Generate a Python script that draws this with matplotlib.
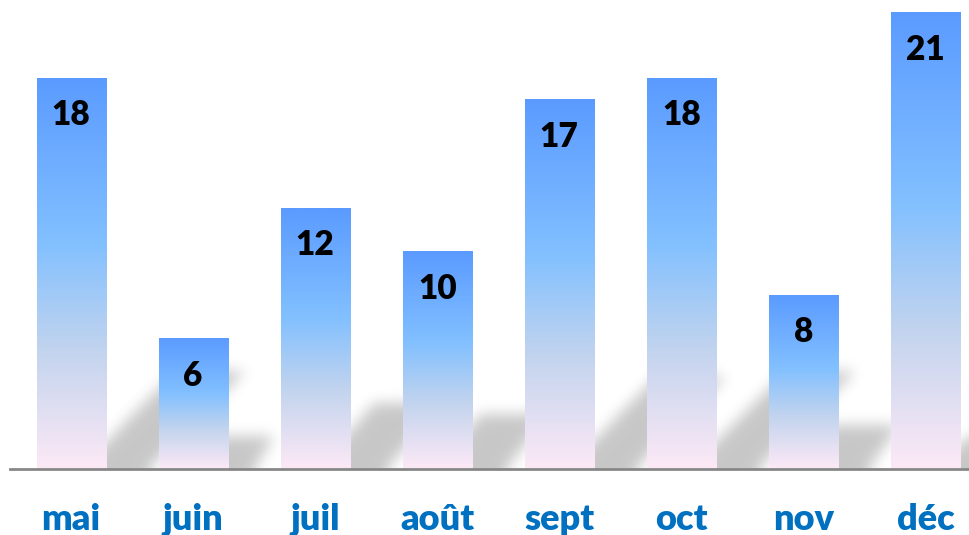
import numpy as np
import matplotlib
matplotlib.use("Agg")
import matplotlib.pyplot as plt
from matplotlib.path import Path
from matplotlib.colors import LinearSegmentedColormap

# ---- data ----
months = ["mai", "juin", "juil", "août", "sept", "oct", "nov", "déc"]
values = [18, 6, 12, 10, 17, 18, 8, 21]

# ---- style ----
W, H, DPI = 970, 535, 100
plt.rcParams['font.family'] = ['Lato', 'DejaVu Sans']

fig = plt.figure(figsize=(W / DPI, H / DPI), dpi=DPI)
ax_l, ax_b, ax_w, ax_h = 10, 66, 960, 469
ax = fig.add_axes([ax_l / W, ax_b / H, ax_w / W, ax_h / H])

xpos = np.arange(len(months))
bar_w = 69 / 122
x_lo, x_hi = -0.5, (970 - 71.5) / 122
y_lo, y_hi = 0, 469 / 21.72
ax.set_xlim(x_lo, x_hi)
ax.set_ylim(y_lo, y_hi)

# ---- gradient bars ----
grad = LinearSegmentedColormap.from_list(
    "g", [(0.0, "#FDE9F6"), (0.30, "#C3D4EE"), (0.58, "#82C0FF"), (1.0, "#5B9BFF")])
bars = ax.bar(xpos, values, width=bar_w, color="none", edgecolor="none",
              linewidth=0, zorder=3)
gvec = np.linspace(0, 1, 256).reshape(-1, 1)
for b in bars:
    x0, y0 = b.get_x(), b.get_y()
    w, h = b.get_width(), b.get_height()
    ax.imshow(gvec, cmap=grad, origin="lower", aspect="auto",
              extent=(x0, x0 + w, y0, y0 + h), zorder=2, interpolation="bilinear")

# ---- blurred perspective shadows ----
px_x = ax_w / (x_hi - x_lo)          # pixels per x unit
px_y = ax_h / (y_hi - y_lo)          # pixels per y unit
sy = 0.25                             # vertical squash of shadow
slope = 0.70                          # px up per px right
nx, ny = ax_w, ax_h
gx = np.linspace(x_lo, x_hi, nx)
gy = np.linspace(y_lo, y_hi, ny)
GX, GY = np.meshgrid(gx, gy)
pts = np.column_stack([GX.ravel(), GY.ravel()])
mask = np.zeros(GX.shape)
for b in bars:
    x0, w, h = b.get_x(), b.get_width(), b.get_height()
    top = sy * h
    shift = top * px_y / slope / px_x
    poly = Path([(x0, -2), (x0 + w, -2), (x0 + w + shift, top), (x0 + shift, top), (x0, -2)])
    m = poly.contains_points(pts).reshape(GX.shape)
    mask = np.maximum(mask, m.astype(float))

def blur(a, sigma):
    r = int(3 * sigma)
    k = np.exp(-0.5 * (np.arange(-r, r + 1) / sigma) ** 2)
    k /= k.sum()
    a = np.apply_along_axis(lambda v: np.convolve(np.pad(v, r, mode="edge"), k, mode="valid"), 0, a)
    a = np.apply_along_axis(lambda v: np.convolve(np.pad(v, r, mode="edge"), k, mode="valid"), 1, a)
    return a

mask = blur(mask, 7.0)
rgba = np.zeros((ny, nx, 4))
rgba[..., 3] = 0.22 * mask
ax.imshow(rgba, origin="lower", aspect="auto", extent=(x_lo, x_hi, y_lo, y_hi),
          zorder=1, interpolation="bilinear")

# ---- value labels ----
for xi, v in zip(xpos, values):
    ax.text(xi, v - 37 / px_y, str(v), ha="center", va="center",
            fontsize=24, fontweight="heavy", color="black", zorder=4)

# ---- axes styling ----
ax.set_xticks(xpos, months)
ax.tick_params(axis="x", length=0, pad=61 * 72 / DPI, labelsize=26,
               labelcolor="#0070C0")
for t in ax.get_xticklabels():
    t.set_fontweight("heavy")
    t.set_verticalalignment("baseline")
ax.set_yticks([])
for s in ["top", "right", "left"]:
    ax.spines[s].set_visible(False)
ax.spines["bottom"].set_color("#878787")
ax.spines["bottom"].set_linewidth(2)
ax.spines["bottom"].set_zorder(5)
ax.set_facecolor("white")

fig.savefig("out.png", dpi=DPI)
